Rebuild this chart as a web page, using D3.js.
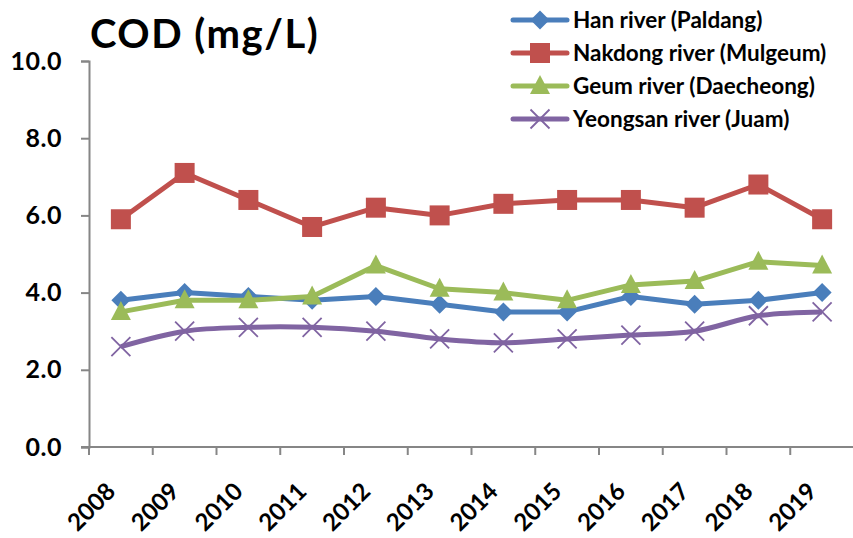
<!DOCTYPE html>
<html>
<head>
<meta charset="utf-8">
<script src="https://cdn.jsdelivr.net/npm/d3@7"></script>
<style>
  html, body { margin: 0; padding: 0; background: #fff; }
  svg { display: block; }
  text { font-family: Lato, "Open Sans", sans-serif; font-weight: bold; fill: #000; }
</style>
</head>
<body>
<svg id="chart" width="853" height="538"></svg>
<script>
// Annual mean COD at four river sites
const years = ["2008","2009","2010","2011","2012","2013","2014","2015","2016","2017","2018","2019"];
const hanPaldang      = [3.8, 4.0, 3.9, 3.8, 3.9, 3.7, 3.5, 3.5, 3.9, 3.7, 3.8, 4.0];
const nakdongMulgeum  = [5.9, 7.1, 6.4, 5.7, 6.2, 6.0, 6.3, 6.4, 6.4, 6.2, 6.8, 5.9];
const geumDaecheong   = [3.5, 3.8, 3.8, 3.9, 4.7, 4.1, 4.0, 3.8, 4.2, 4.3, 4.8, 4.7];
const yeongsanJuam    = [2.6, 3.0, 3.1, 3.1, 3.0, 2.8, 2.7, 2.8, 2.9, 3.0, 3.4, 3.5];
const seriesNames = ["Han river (Paldang)", "Nakdong river (Mulgeum)", "Geum river (Daecheong)", "Yeongsan river (Juam)"];
const yTicks = [0, 2, 4, 6, 8, 10];

const series = [
  { name: seriesNames[0], values: hanPaldang,     color: "#4A7EBB", marker: "diamond",  smooth: false },
  { name: seriesNames[1], values: nakdongMulgeum, color: "#C0504D", marker: "square",   smooth: false },
  { name: seriesNames[2], values: geumDaecheong,  color: "#9BBB59", marker: "triangle", smooth: false },
  { name: seriesNames[3], values: yeongsanJuam,   color: "#8064A2", marker: "x",        smooth: true }
];

const svg = d3.select("#chart");
const plotLeft = 89, plotRight = 854, plotTop = 61, plotBottom = 447;
const axisColor = "#868686";

const x = d3.scaleBand().domain(years).range([plotLeft, plotRight]);
const y = d3.scaleLinear().domain([0, 10]).range([plotBottom, plotTop]);

// Y axis
const yAxis = svg.append("g").attr("transform", `translate(${plotLeft},0)`)
  .call(d3.axisLeft(y).tickValues(yTicks).tickFormat(d3.format(".1f")).tickSize(8).tickPadding(19));
yAxis.select(".domain").attr("stroke", axisColor).attr("stroke-width", 2);
yAxis.selectAll(".tick line").attr("stroke", axisColor).attr("stroke-width", 2);
yAxis.selectAll(".tick text").style("font-size", "25px").style("letter-spacing", "0.5px").attr("fill", "#000");

// X axis: ticks at category boundaries
const xg = svg.append("g");
xg.append("line").attr("x1", plotLeft - 8).attr("x2", plotRight).attr("y1", plotBottom).attr("y2", plotBottom)
  .attr("stroke", axisColor).attr("stroke-width", 2);
const boundaries = years.map(d => x(d)).concat([x(years[years.length - 1]) + x.bandwidth()]);
xg.selectAll("line.tk").data(boundaries).join("line").attr("class", "tk")
  .attr("x1", d => d).attr("x2", d => d).attr("y1", plotBottom).attr("y2", plotBottom + 8)
  .attr("stroke", axisColor).attr("stroke-width", 2);
xg.selectAll("text").data(years).join("text")
  .attr("transform", d => `translate(${x(d) + x.bandwidth() / 2 - 4},${plotBottom + 46}) rotate(-45)`)
  .attr("text-anchor", "end")
  .style("font-size", "24px")
  .text(d => d);

// Marker shapes
function drawMarker(g, type, color, cx, cy) {
  if (type === "diamond") {
    g.append("path").attr("d", `M${cx},${cy - 9.5}L${cx + 9.5},${cy}L${cx},${cy + 9.5}L${cx - 9.5},${cy}Z`).attr("fill", color);
  } else if (type === "square") {
    g.append("rect").attr("x", cx - 10).attr("y", cy - 10).attr("width", 20).attr("height", 20).attr("fill", color);
  } else if (type === "triangle") {
    g.append("path").attr("d", `M${cx},${cy - 11}L${cx + 10},${cy + 8}L${cx - 10},${cy + 8}Z`).attr("fill", color);
  } else if (type === "x") {
    g.append("path").attr("d", `M${cx - 9.5},${cy - 9.5}L${cx + 9.5},${cy + 9.5}M${cx - 9.5},${cy + 9.5}L${cx + 9.5},${cy - 9.5}`)
      .attr("stroke", color).attr("stroke-width", 1.8).attr("fill", "none");
  }
}

// Lines and markers
series.forEach(s => {
  const line = d3.line()
    .x((d, i) => x(years[i]) + x.bandwidth() / 2)
    .y(d => y(d))
    .curve(s.smooth ? d3.curveCatmullRom.alpha(0) : d3.curveLinear);
  const g = svg.append("g");
  g.append("path").datum(s.values).attr("d", line)
    .attr("fill", "none").attr("stroke", s.color).attr("stroke-width", 5).attr("stroke-linejoin", "round");
  s.values.forEach((v, i) => drawMarker(g, s.marker, s.color, x(years[i]) + x.bandwidth() / 2, y(v)));
});

// Title
svg.append("text").attr("x", 90).attr("y", 48).style("font-size", "40px").style("letter-spacing", "1.5px").text("COD (mg/L)");

// Legend
const legend = svg.append("g");
series.forEach((s, i) => {
  const ly = 20 + i * 33;
  const g = legend.append("g");
  g.append("line").attr("x1", 513).attr("x2", 567).attr("y1", ly).attr("y2", ly)
    .attr("stroke", s.color).attr("stroke-width", 5).attr("stroke-linecap", "round");
  drawMarker(g, s.marker, s.color, 540, ly);
  g.append("text").attr("x", 573).attr("y", ly).attr("dy", "0.35em").style("font-size", "22.5px").text(s.name);
});
</script>
</body>
</html>
